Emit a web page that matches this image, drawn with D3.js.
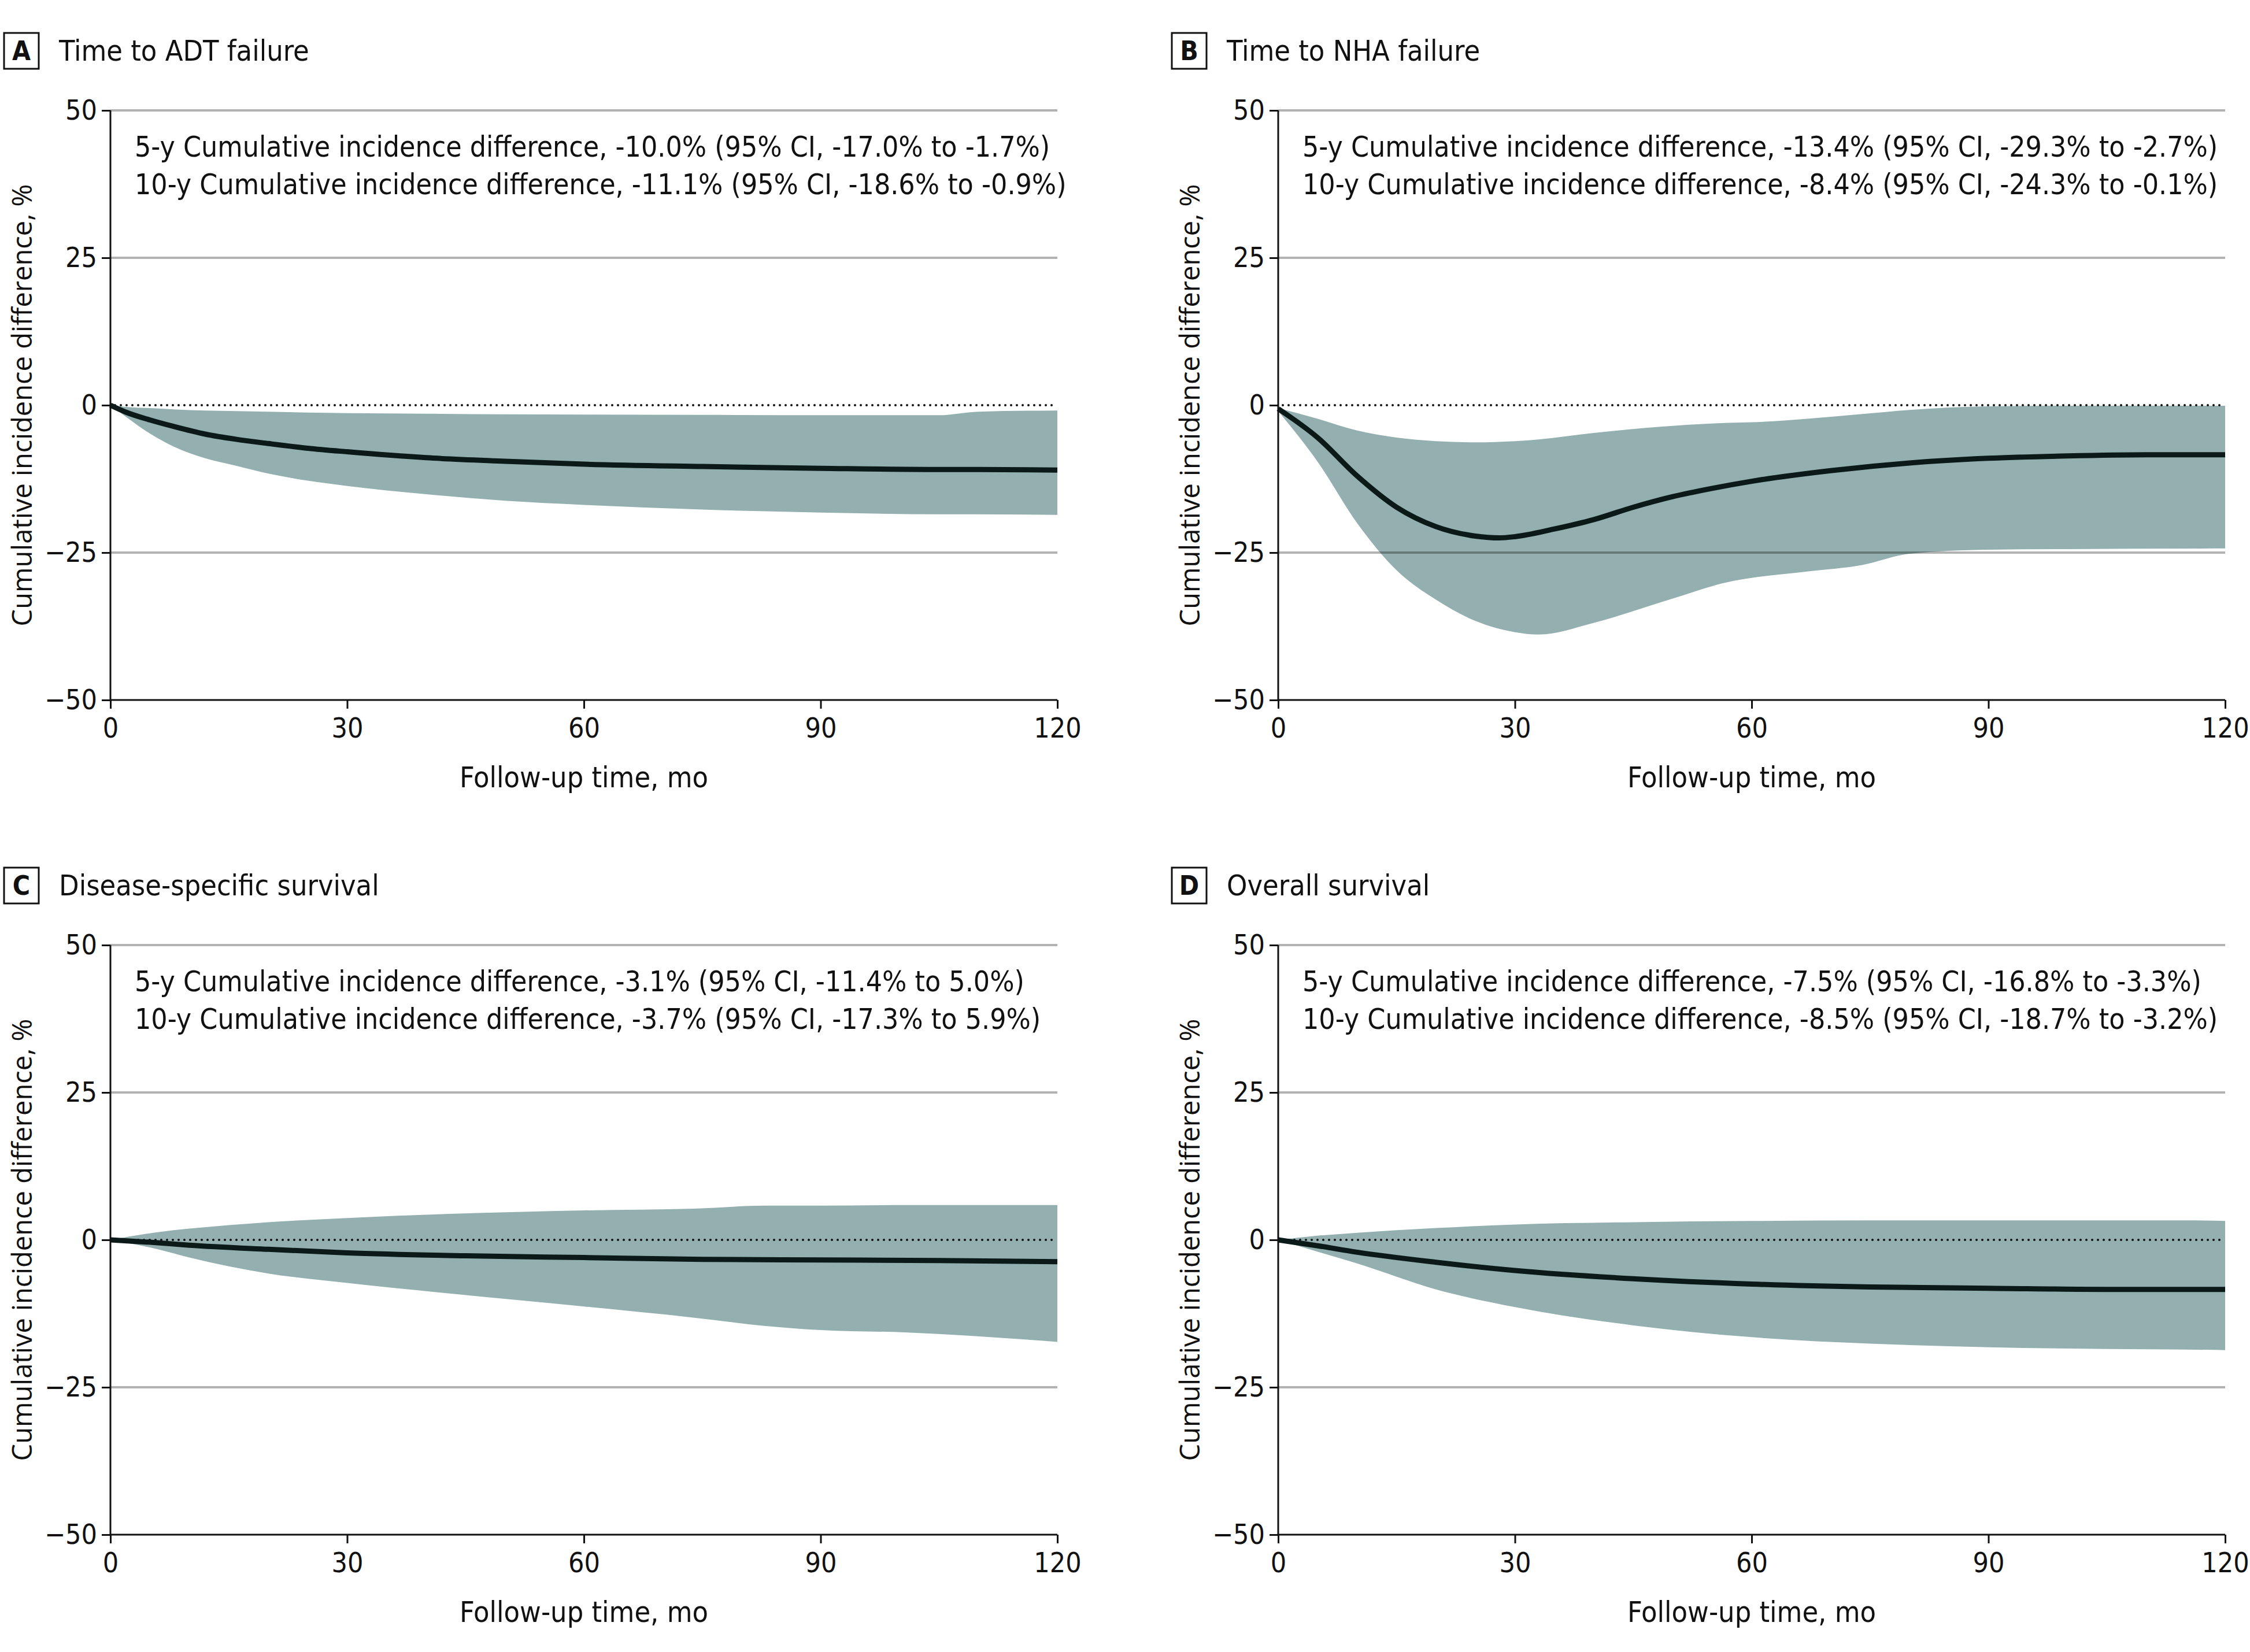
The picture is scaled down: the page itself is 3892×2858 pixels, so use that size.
<!DOCTYPE html>
<html>
<head>
<meta charset="utf-8">
<script src="https://cdn.jsdelivr.net/npm/d3@7"></script>
<style>
  body { margin: 0; background: #fff; }
  svg text { font-family: "DejaVu Sans Condensed", "DejaVu Sans", sans-serif; font-stretch: condensed; fill: #111; }
</style>
</head>
<body>
<svg id="chart" width="3892" height="2858"></svg>
<script>
const panelLetters = ["A", "B", "C", "D"];
const panelTitles = ["Time to ADT failure", "Time to NHA failure", "Disease-specific survival", "Overall survival"];
const annotations = [
  ["5-y Cumulative incidence difference, -10.0% (95% CI, -17.0% to -1.7%)",
   "10-y Cumulative incidence difference, -11.1% (95% CI, -18.6% to -0.9%)"],
  ["5-y Cumulative incidence difference, -13.4% (95% CI, -29.3% to -2.7%)",
   "10-y Cumulative incidence difference, -8.4% (95% CI, -24.3% to -0.1%)"],
  ["5-y Cumulative incidence difference, -3.1% (95% CI, -11.4% to 5.0%)",
   "10-y Cumulative incidence difference, -3.7% (95% CI, -17.3% to 5.9%)"],
  ["5-y Cumulative incidence difference, -7.5% (95% CI, -16.8% to -3.3%)",
   "10-y Cumulative incidence difference, -8.5% (95% CI, -18.7% to -3.2%)"]
];
const xTicks = [0, 30, 60, 90, 120];
const yTicks = [-50, -25, 0, 25, 50];
const gridTicks = [-25, 25, 50];
const xLabel = "Follow-up time, mo";
const yLabel = "Cumulative incidence difference, %";

// A: time to ADT failure
const adtTime = [0, 2, 5, 8, 12, 16, 20, 25, 30, 40, 50, 60, 75, 90, 105, 110, 120];
const adtEst  = [0, -1.2, -2.5, -3.6, -4.9, -5.8, -6.5, -7.3, -7.9, -8.9, -9.5, -10.0, -10.4, -10.7, -10.9, -10.9, -11.0];
const adtLow  = [0, -2.0, -4.8, -7.0, -9.0, -10.3, -11.6, -12.8, -13.7, -15.1, -16.2, -16.9, -17.7, -18.2, -18.5, -18.5, -18.6];
const adtHigh = [0, -0.3, -0.5, -0.7, -0.9, -1.0, -1.1, -1.25, -1.35, -1.45, -1.55, -1.6, -1.65, -1.7, -1.7, -1.1, -0.9];

// B: time to NHA failure
const nhaTime = [0, 5, 10, 15, 20, 25, 28, 30, 35, 40, 45, 50, 55, 60, 70, 80, 90, 100, 110, 120];
const nhaEst  = [-0.6, -5.5, -12.0, -17.3, -20.6, -22.2, -22.5, -22.3, -21.0, -19.4, -17.3, -15.5, -14.1, -12.9, -11.1, -9.8, -9.0, -8.6, -8.4, -8.4];
const nhaBandTime = [0, 5, 10, 15, 20, 25, 30, 33, 40, 50, 57, 60, 67, 74, 80, 90, 100, 120];
const nhaLow  = [-1.0, -9.6, -20.0, -28.0, -33.0, -36.6, -38.5, -38.9, -36.9, -32.8, -30.0, -29.3, -28.2, -27.1, -25.2, -24.5, -24.4, -24.3];
const nhaHigh = [-0.5, -2.3, -4.3, -5.5, -6.1, -6.3, -6.1, -5.8, -4.7, -3.5, -3.0, -2.9, -2.3, -1.5, -0.8, -0.2, -0.1, -0.1];

// C: disease-specific survival
const dssTime = [0, 5, 10, 20, 30, 45, 60, 75, 90, 105, 120];
const dssEst  = [0, -0.4, -0.9, -1.6, -2.2, -2.7, -3.0, -3.3, -3.4, -3.5, -3.7];
const dssBandTime = [0, 6, 10, 20, 30, 43, 60, 74, 83, 90, 101, 120];
const dssHigh = [0, 1.3, 1.9, 3.0, 3.7, 4.4, 5.0, 5.3, 5.8, 5.8, 5.9, 5.9];
const dssLow  = [0, -1.6, -3.0, -5.7, -7.3, -9.1, -11.3, -13.2, -14.6, -15.3, -15.7, -17.3];

// D: overall survival
const osTime = [0, 5, 10, 20, 30, 45, 60, 75, 90, 105, 120];
const osEst  = [0, -1.0, -2.1, -3.8, -5.2, -6.6, -7.5, -8.0, -8.2, -8.4, -8.4];
const osBandTime = [0, 5, 10, 20, 30, 45, 60, 75, 90, 105, 115, 120];
const osHigh = [0, 0.7, 1.2, 2.0, 2.6, 3.0, 3.2, 3.3, 3.3, 3.3, 3.3, 3.2];
const osLow  = [0, -2.0, -4.0, -8.4, -11.4, -14.5, -16.5, -17.6, -18.2, -18.5, -18.6, -18.7];

const series = [
  { t: adtTime, est: adtEst, bt: adtTime, low: adtLow, high: adtHigh },
  { t: nhaTime, est: nhaEst, bt: nhaBandTime, low: nhaLow, high: nhaHigh },
  { t: dssTime, est: dssEst, bt: dssBandTime, low: dssLow, high: dssHigh },
  { t: osTime, est: osEst, bt: osBandTime, low: osLow, high: osHigh }
];

const colLeft = [191, 2211];
const rowTop = [191, 1635];
const plotW = 1638;
const plotH = 1020;

const svg = d3.select("#chart");

series.forEach((s, i) => {
  const left = colLeft[i % 2];
  const top = rowTop[Math.floor(i / 2)];

  const x = d3.scaleLinear().domain([0, 120]).range([0, plotW]);
  const y = d3.scaleLinear().domain([-50, 50]).range([plotH, 0]);

  const g = svg.append("g").attr("transform", `translate(${left},${top})`);

  // panel label box + title
  g.append("rect")
    .attr("x", -184).attr("y", -134)
    .attr("width", 60).attr("height", 62)
    .attr("fill", "none").attr("stroke", "#111").attr("stroke-width", 3);
  g.append("text")
    .attr("x", -154).attr("y", -103)
    .attr("text-anchor", "middle").attr("dominant-baseline", "central")
    .style("font-size", "46px").style("font-weight", "bold")
    .text(panelLetters[i]);
  g.append("text")
    .attr("x", -89).attr("y", -103)
    .attr("dominant-baseline", "central")
    .style("font-size", "50px")
    .text(panelTitles[i]);

  // CI band
  const band = d3.area()
    .x((d, j) => x(s.bt[j]))
    .y0((d, j) => y(s.low[j]))
    .y1((d, j) => y(s.high[j]))
    .curve(d3.curveMonotoneX);
  g.append("path")
    .datum(s.bt)
    .attr("d", band)
    .attr("fill", "#93afaf");

  // gridlines on top of the band, translucent
  g.selectAll(".grid")
    .data(gridTicks)
    .enter().append("line")
    .attr("x1", 0).attr("x2", plotW)
    .attr("y1", d => y(d)).attr("y2", d => y(d))
    .attr("stroke", "rgba(0,0,0,0.3)")
    .attr("stroke-width", 4);

  // dotted zero line
  g.append("line")
    .attr("x1", 8).attr("x2", plotW)
    .attr("y1", y(0)).attr("y2", y(0))
    .attr("stroke", "#111")
    .attr("stroke-width", 4)
    .attr("stroke-linecap", "round")
    .attr("stroke-dasharray", "0 10");

  // point estimate
  const line = d3.line()
    .x((d, j) => x(s.t[j]))
    .y((d, j) => y(s.est[j]))
    .curve(d3.curveMonotoneX);
  g.append("path")
    .datum(s.t)
    .attr("d", line)
    .attr("fill", "none")
    .attr("stroke", "#0b1919")
    .attr("stroke-width", 9);

  // axes
  const yAxis = g.append("g")
    .call(d3.axisLeft(y).tickValues(yTicks).tickSize(15).tickPadding(8).tickFormat(d => d < 0 ? "\u2212" + Math.abs(d) : d));
  const xAxis = g.append("g")
    .attr("transform", `translate(0,${plotH})`)
    .call(d3.axisBottom(x).tickValues(xTicks).tickSize(15).tickPadding(16));
  [xAxis, yAxis].forEach(ax => {
    ax.select(".domain").attr("stroke", "#111").attr("stroke-width", 3)
      .attr("d", ax === xAxis ? `M0,0H${plotW}` : `M0,0V${plotH}`);
    ax.selectAll(".tick line").attr("stroke", "#111").attr("stroke-width", 3);
    ax.selectAll(".tick text").style("font-size", "48px").attr("fill", "#111")
      .style("font-family", null);
  });

  // annotation
  annotations[i].forEach((txt, k) => {
    g.append("text")
      .attr("x", 42).attr("y", 63 + k * 65)
      .attr("dominant-baseline", "central")
      .style("font-size", "49.5px")
      .text(txt);
  });

  // axis titles
  g.append("text")
    .attr("x", plotW / 2).attr("y", plotH + 134)
    .attr("text-anchor", "middle").attr("dominant-baseline", "central")
    .style("font-size", "50px")
    .text(xLabel);
  g.append("text")
    .attr("transform", `translate(-154,${plotH / 2}) rotate(-90)`)
    .attr("text-anchor", "middle").attr("dominant-baseline", "central")
    .style("font-family", "'Open Sans', sans-serif").style("font-stretch", "normal")
    .style("font-size", "47px")
    .text(yLabel);
});
</script>
</body>
</html>
